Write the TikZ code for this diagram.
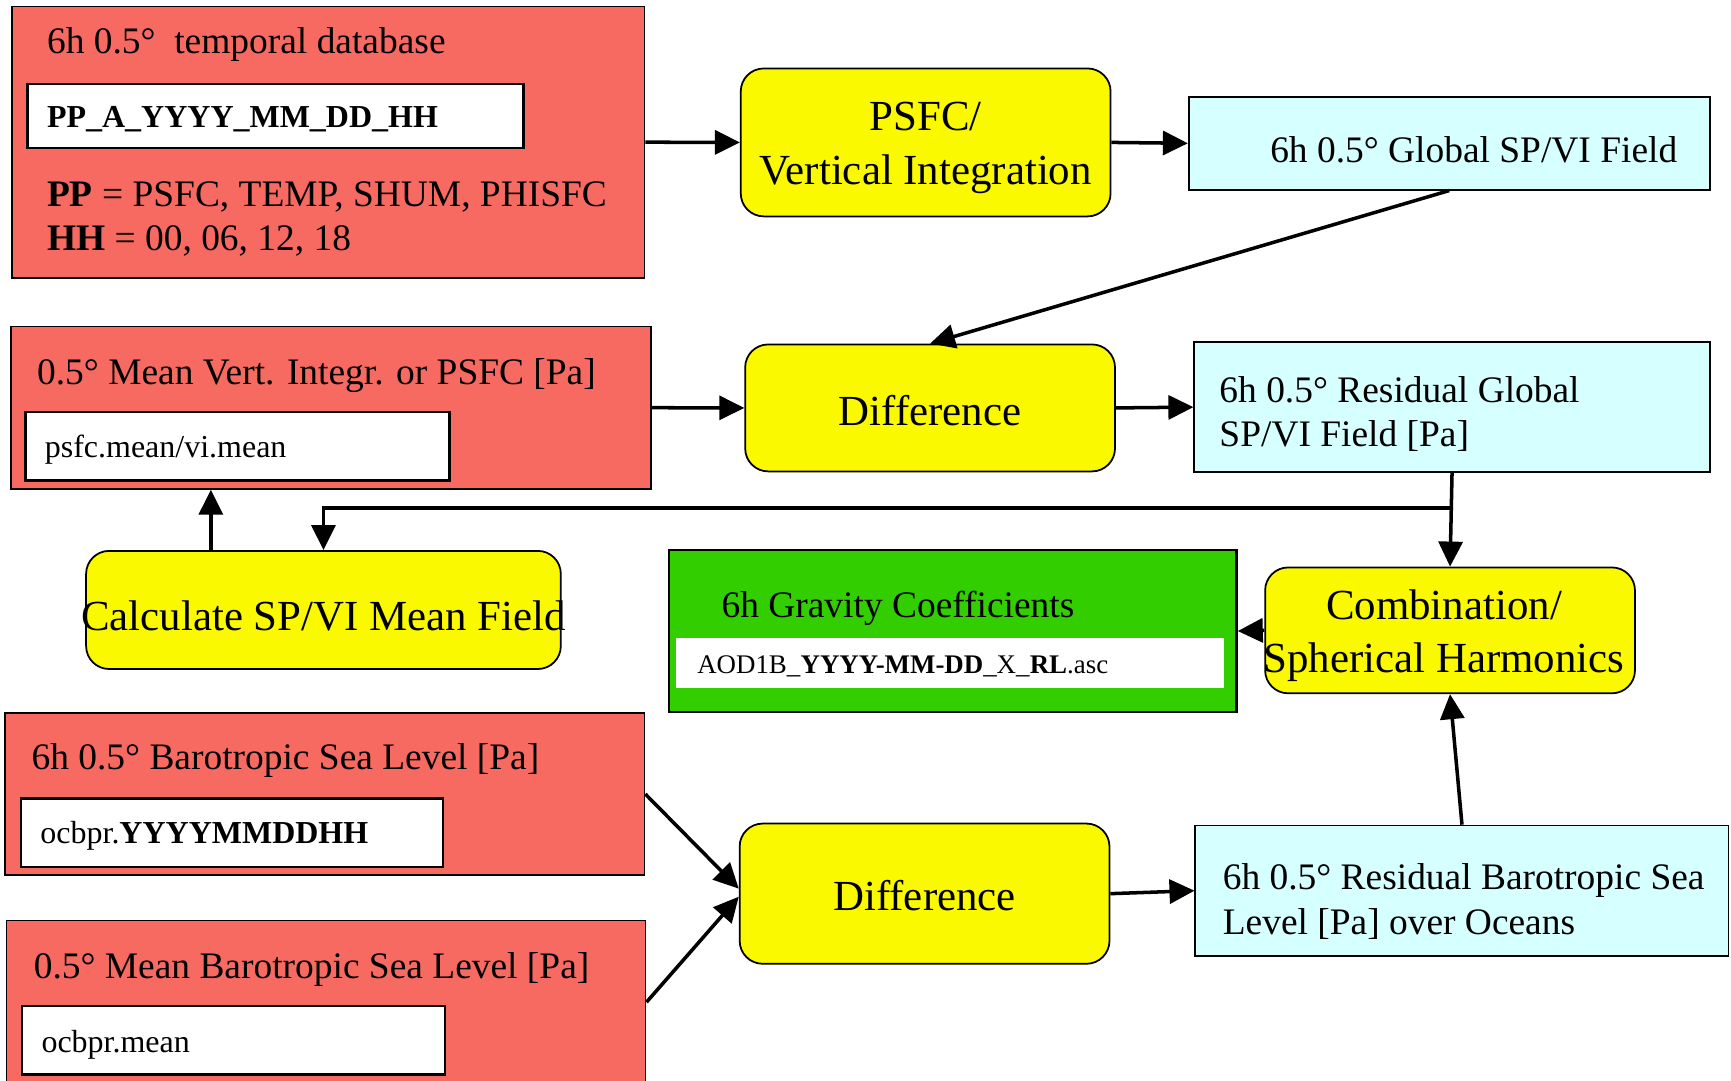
\documentclass[tikz,border=0pt]{standalone}
\usepackage{fontspec}
\setmainfont{Liberation Serif}
\usetikzlibrary{arrows.meta}

\definecolor{dbred}{RGB}{247,106,97}
\definecolor{procyellow}{RGB}{250,249,0}
\definecolor{fieldcyan}{RGB}{214,255,255}
\definecolor{coefgreen}{RGB}{51,206,0}

\begin{document}
\begin{tikzpicture}[x=0.1104mm, y=-0.1104mm]

	\def\u{0.1104mm} % one picture unit

	\tikzset{databox/.style={draw=black, fill=dbred, line width=0.5pt, anchor=north west, inner sep=0pt}}
	\tikzset{filebox/.style={draw=black, fill=white, line width=0.7pt, anchor=north west, inner sep=0pt}}
	\tikzset{fieldbox/.style={draw=black, fill=fieldcyan, line width=0.5pt, anchor=north west, inner sep=0pt}}
	\tikzset{procbox/.style={draw=black, fill=procyellow, rounded corners=2.3mm, line width=0.5pt, inner sep=0pt}}
	\tikzset{bigtxt/.style={inner sep=0pt, align=center, yshift=-0.55mm, font=\fontsize{12.2}{15.2}\selectfont}}
	\tikzset{medtxt/.style={anchor=west, inner sep=0pt, align=left, yshift=-0.33mm, font=\fontsize{10.65}{12.6}\selectfont}}
	\tikzset{smalltxt/.style={anchor=west, inner sep=0pt, yshift=-0.33mm, font=\fontsize{9.1}{11}\selectfont}}
	\tikzset{tinytxt/.style={anchor=west, inner sep=0pt, yshift=-0.2mm, font=\fontsize{7.65}{9}\selectfont}}
	\tikzset{flow/.style={-{Triangle[length=2.5mm, width=2.4mm]}, line width=1pt}}

	\useasboundingbox (0,0) rectangle (1568,979);

	% temporal database
	\node[databox, minimum width=573*\u, minimum height=246*\u] (db) at (10,5) {};
	\node[medtxt] (dbtitle) at (42,37) {6h 0.5°\ \ temporal database};
	\node[filebox, minimum width=449*\u, minimum height=58*\u] (dbfile) at (24,75) {};
	\node[smalltxt] (dbname) at (42,105) {\textbf{PP\_A\_YYYY\_MM\_DD\_HH}};
	\node[medtxt] (dbkeys) at (42,195.5) {\textbf{PP} = PSFC, TEMP, SHUM, PHISFC\\\textbf{HH} = 00, 06, 12, 18};

	% mean field
	\node[databox, minimum width=580*\u, minimum height=147*\u] (mean) at (9,295) {};
	\node[medtxt] (meantitle) at (33,337) {0.5° Mean Vert. Integr. or PSFC [Pa]};
	\node[filebox, minimum width=384*\u, minimum height=62*\u] (meanfile) at (22,372) {};
	\node[smalltxt] (meanname) at (40,404) {psfc.mean/vi.mean};

	% barotropic sea level
	\node[databox, minimum width=579*\u, minimum height=147*\u] (baro) at (4,645) {};
	\node[medtxt] (barotitle) at (28,686) {6h 0.5° Barotropic Sea Level [Pa]};
	\node[filebox, minimum width=382*\u, minimum height=62*\u] (barofile) at (18,722) {};
	\node[smalltxt] (baroname) at (36,754) {ocbpr.\textbf{YYYYMMDDHH}};

	% mean barotropic sea level
	\node[databox, minimum width=579*\u, minimum height=148*\u] (clim) at (5,833) {};
	\node[medtxt] (climtitle) at (30,875) {0.5° Mean Barotropic Sea Level [Pa]};
	\node[filebox, minimum width=383*\u, minimum height=62*\u] (climfile) at (19,910) {};
	\node[smalltxt] (climname) at (37,943) {ocbpr.mean};

	% processing steps
	\node[procbox, minimum width=335*\u, minimum height=134*\u] (psfc) at (838.5,129) {};
	\node[bigtxt] (psfctxt) at (psfc) {PSFC/\\Vertical Integration};
	\node[procbox, minimum width=335*\u, minimum height=115*\u] (diff1) at (842.5,369.5) {};
	\node[bigtxt, yshift=0.33mm] (diff1txt) at (diff1) {Difference};
	\node[procbox, minimum width=430*\u, minimum height=107*\u] (calc) at (293,552.5) {};
	\node[bigtxt] (calctxt) at (calc) {Calculate SP/VI Mean Field};
	\node[procbox, minimum width=335*\u, minimum height=114*\u] (comb) at (1313.5,571) {};
	\node[bigtxt] (combtxt) at (1308,571) {Combination/\\Spherical Harmonics};
	\node[procbox, minimum width=335*\u, minimum height=127*\u] (diff2) at (837.5,809.5) {};
	\node[bigtxt, yshift=0.4mm] (diff2txt) at (diff2) {Difference};

	% fields
	\node[fieldbox, minimum width=472*\u, minimum height=84*\u] (glob) at (1076,87) {};
	\node[medtxt] (globtxt) at (1150,133) {6h 0.5° Global SP/VI Field};
	\node[fieldbox, minimum width=467*\u, minimum height=118*\u] (res1) at (1081,309) {};
	\node[medtxt] (res1txt) at (1104,372) {6h 0.5° Residual Global\\SP/VI Field [Pa]};
	\node[fieldbox, minimum width=483*\u, minimum height=118*\u] (res2) at (1082,747) {};
	\node[medtxt] (res2txt) at (1107,813.5) {6h 0.5° Residual Barotropic Sea\\Level [Pa] over Oceans};

	% gravity coefficients
	\node[draw=black, fill=coefgreen, line width=0.7pt, anchor=north west, inner sep=0pt, minimum width=514*\u, minimum height=147*\u] (coef) at (605,497) {};
	\node[medtxt] (coeftitle) at (653,548) {6h Gravity Coefficients};
	\node[fill=white, anchor=north west, inner sep=0pt, minimum width=496*\u, minimum height=46*\u] (coeffile) at (612,577) {};
	\node[tinytxt] (coefname) at (631,602) {AOD1B\_\textbf{YYYY-MM-DD}\_X\_\textbf{RL}.asc};

	% connectors
	\coordinate (split) at (1314,460);
	\coordinate (upx) at (191,0);

	\draw[flow] (db.east) -- (psfc.west);
	\draw[flow] (psfc.east) -- (glob.west);
	\draw[flow] (glob.south) -- (diff1.north);
	\draw[flow] (mean.east) -- (diff1.west);
	\draw[flow] (diff1.east) -- (res1.west);
	\draw[flow] (res1.south) -- (comb.north);
	\draw[flow] (split) -| (calc.north);
	\draw[flow] (calc.north -| upx) -- (mean.south -| upx);
	\draw[flow] (comb.west) -- (coef.east);
	\draw[flow] (res2.north) -- (comb.south);
	\draw[flow] (baro.east) -- ([yshift=0.5mm]diff2.west);
	\draw[flow] (clim.east) -- ([yshift=-0.3mm]diff2.west);
	\draw[flow] (diff2.east) -- (res2.west);

\end{tikzpicture}
\end{document}
